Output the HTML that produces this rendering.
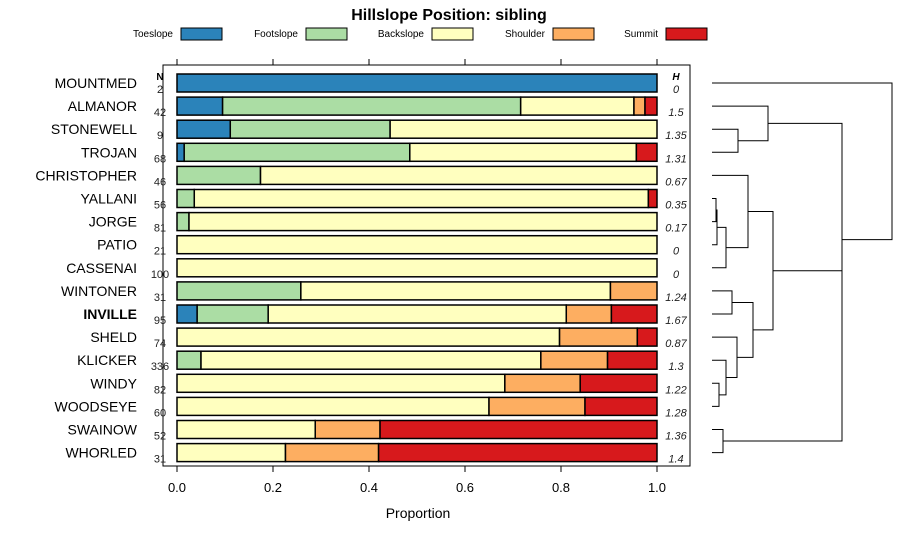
<!DOCTYPE html>
<html><head><meta charset="utf-8"><style>
body{margin:0;background:#fff;font-family:"Liberation Sans",sans-serif}
svg text{font-family:"Liberation Sans",sans-serif}
</style></head><body>
<svg id="c" width="900" height="540" xmlns="http://www.w3.org/2000/svg">
<text x="449" y="20" text-anchor="middle" font-size="16" font-weight="bold">Hillslope Position: sibling</text>
<g id="legend"></g>
<rect x="163" y="65" width="527" height="401" fill="none" stroke="#000" stroke-width="1"/>
<g id="axes"></g>
<g id="bars"></g>
<g id="dendro" stroke="#000" stroke-width="1" fill="none"></g>
<text x="418" y="518" text-anchor="middle" font-size="14">Proportion</text>
</svg>
<script>
const categories=["MOUNTMED","ALMANOR","STONEWELL","TROJAN","CHRISTOPHER","YALLANI","JORGE","PATIO","CASSENAI","WINTONER","INVILLE","SHELD","KLICKER","WINDY","WOODSEYE","SWAINOW","WHORLED"];
const nValues=[2,42,9,68,46,56,81,21,100,31,95,74,336,82,60,52,31];
const hValues=["0","1.5","1.35","1.31","0.67","0.35","0.17","0","0","1.24","1.67","0.87","1.3","1.22","1.28","1.36","1.4"];
const seriesNames=["Toeslope","Footslope","Backslope","Shoulder","Summit"];
const toeslope=[1,.095,.111,.015,0,0,0,0,0,0,.042,0,0,0,0,0,0];
const footslope=[0,.621,.333,.47,.174,.036,.025,0,0,.258,.148,0,.05,0,0,0,0];
const backslope=[0,.236,.556,.472,.826,.946,.975,1,1,.645,.621,.797,.708,.683,.65,.288,.226];
const shoulder=[0,.023,0,0,0,0,0,0,0,.097,.094,.162,.139,.157,.2,.135,.194];
const summit=[0,.025,0,.043,0,.018,0,0,0,0,.095,.041,.103,.16,.15,.577,.58];
const tickLabels=["0.0","0.2","0.4","0.6","0.8","1.0"];
const tickValues=[0,.2,.4,.6,.8,1];
const colors=["#2b83ba","#abdda4","#ffffbf","#fdae61","#d7191c"];
const NS="http://www.w3.org/2000/svg";
const xs=v=>177+v*480;
const yTop=i=>74+i*23.1;
function mk(tag,attrs,parent,txt){const e=document.createElementNS(NS,tag);for(const k in attrs)e.setAttribute(k,attrs[k]);if(txt!==undefined)e.textContent=txt;parent.appendChild(e);return e;}
const series=[toeslope,footslope,backslope,shoulder,summit];
// legend
const lg=document.getElementById('legend');
const lx=[181,306,432,553,666];
seriesNames.forEach((n,k)=>{
 const t=mk('text',{x:lx[k]-8,y:37,'text-anchor':'end','font-size':10},lg,n);
 
 
 const r=mk('rect',{x:lx[k],y:28,width:41,height:12,fill:colors[k],stroke:'#000'},lg);
 
 
});
// axes
const ax=document.getElementById('axes');
tickValues.forEach((v,i)=>{
 mk('line',{x1:xs(v),x2:xs(v),y1:59,y2:65,stroke:'#000'},ax);
 mk('line',{x1:xs(v),x2:xs(v),y1:466,y2:472,stroke:'#000'},ax);
 const t=mk('text',{x:xs(v),y:492,'text-anchor':'middle','font-size':13},ax,tickLabels[i]);
 
 
});
const bg=document.getElementById('bars');
mk('text',{x:160,y:80,'text-anchor':'middle','font-size':10,'font-weight':'bold'},bg,'N');
mk('text',{x:676,y:80,'text-anchor':'middle','font-size':10,'font-weight':'bold','font-style':'italic'},bg,'H');
categories.forEach((c,i)=>{
 const y=yTop(i);
 const lab=mk('text',{x:137,y:y+14,'text-anchor':'end','font-size':14,'font-weight':c==='INVILLE'?'bold':'normal'},bg,c);
 
 
 const nt=mk('text',{x:160,y:y+19,'text-anchor':'middle','font-size':11,fill:'#222'},bg,String(nValues[i]));
 
 
 const ht=mk('text',{x:676,y:y+19,'text-anchor':'middle','font-size':11,'font-style':'italic',fill:'#222'},bg,hValues[i]);
 
 
 let cum=0;
 series.forEach((s,k)=>{
  const v=s[i]; if(v<=0)return;
  const r=mk('rect',{x:xs(cum),y:y,width:xs(cum+v)-xs(cum),height:18,fill:colors[k],stroke:'#000','stroke-width':1.5},bg);
  
  
  cum+=v;
 });
});
// dendrogram
const dg=document.getElementById('dendro');
const ry=i=>yTop(i)+9;
const L=712;
function join(x,y1,x1,y2,x2){ // join node at y1 (from x1) and y2 (from x2) at height x
 mk('path',{d:`M${x1},${y1}H${x}V${y2}H${x2}`},dg);
 return (y1+y2)/2;
}
let a=join(738,ry(2),L,ry(3),L);
let A=join(768,ry(1),L,a,738);
let y1=join(716,ry(5),L,ry(6),L);
let y2=join(717,y1,716,ry(7),L);
let y3=join(726,y2,717,ry(8),L);
let y4=join(748,ry(4),L,y3,726);
let w1=join(732,ry(9),L,ry(10),L);
let w2=join(719,ry(13),L,ry(14),L);
let w3=join(726,ry(12),L,w2,719);
let w4=join(737,ry(11),L,w3,726);
let w5=join(753,w1,732,w4,737);
let M=join(773,y4,748,w5,753);
let s=join(723,ry(15),L,ry(16),L);
let MB=join(842,M,773,s,723);
let R=join(842,A,768,MB,842);
join(892,ry(0),L,R,842);
</script>
</body></html>
